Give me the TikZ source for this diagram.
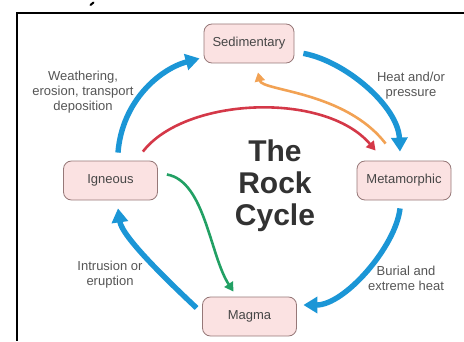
\documentclass[tikz,border=0pt]{standalone}
\usepackage{fontspec}
\setmainfont{Liberation Sans}
\usetikzlibrary{arrows.meta,calc}
\definecolor{cyclblue}{RGB}{27,150,214}
\definecolor{cyclred}{RGB}{212,56,72}
\definecolor{cyclorange}{RGB}{242,162,84}
\definecolor{cyclgreen}{RGB}{34,160,100}
\definecolor{nodefill}{RGB}{251,226,226}
\definecolor{nodeedge}{RGB}{150,120,120}
\definecolor{nodetext}{RGB}{70,70,70}
\definecolor{lbltext}{RGB}{85,85,85}
\definecolor{titletext}{RGB}{50,50,50}
\begin{document}
\begin{tikzpicture}[x=1pt,y=1pt,
  rock/.style={draw=nodeedge, fill=nodefill, rounded corners=8pt, minimum width=94pt,
    minimum height=39pt, line width=0.8pt, text=nodetext, inner sep=0pt,
    font=\fontsize{13}{15}\selectfont},
  flow/.style={line width=5.4pt, color=cyclblue, -{Triangle[length=14pt,width=16pt]}},
  thinflow/.style={line width=2.6pt, -{Triangle[length=9pt,width=10pt]}},
  lbl/.style={text=lbltext, align=center, font=\fontsize{13}{15}\selectfont}]
\useasboundingbox (0,0) rectangle (464,341);
% frame
\draw[line width=1.5pt] (464,328) -- (17,328) -- (17,0);
\draw[line width=2pt, line cap=round] (90.5,336) -- (93.5,338.5);
% nodes
\node[rock, minimum width=90pt] (sed) at (249,297.5) {Sedimentary};
\node[rock] (ign) at (110.5,160.5) {Igneous};
\node[rock] (met) at (404,160.5) {Metamorphic};
\node[rock] (mag) at (249.5,24.5) {Magma};
% title
\node[text=titletext, align=center, font=\fontsize{30}{32}\selectfont\bfseries] (title) at (275,155) {The\\Rock\\Cycle};
% labels
\node[lbl] (lw) at (83,249) {Weathering,\\erosion, transport\\deposition};
\node[lbl] (lh) at (411,255) {Heat and/or\\pressure};
\node[lbl] (li) at (110,66) {Intrusion or\\eruption};
\node[lbl] (lb) at (406,63) {Burial and\\extreme heat};
% blue cycle
\draw[flow] ($(ign.north)+(7.5,8)$) .. controls (122,240) and (160,272) .. ($(sed.south west)+(-4,5)$);
\draw[flow] ($(sed.south east)+(9,10)$) .. controls (345,280) and (398,235) .. ($(met.north)+(-4,9)$);
\draw[flow] ($(met.south)+(-4,-8)$) .. controls (396,95) and (345,36) .. ($(mag.east)+(6.5,11.5)$);
\draw[flow] ($(mag.west)+(-5.5,8.5)$) .. controls (170,58) and (122,104) .. ($(ign.south)+(7.5,-8)$);
% other flows
\draw[thinflow, color=cyclred] ($(ign.north east)+(-15,9)$) .. controls (185,244) and (325,250) .. ($(met.north west)+(19,10)$);
\draw[thinflow, color=cyclorange] ($(met.north west)+(29,17)$) .. controls (345,250) and (262,250) .. ($(sed.south)+(9,-9)$);
\draw[thinflow, color=cyclgreen] ($(ign.east)+(9,6)$) .. controls (205,160) and (210,85) .. ($(mag.north)+(-16,5)$);
\end{tikzpicture}
\end{document}
